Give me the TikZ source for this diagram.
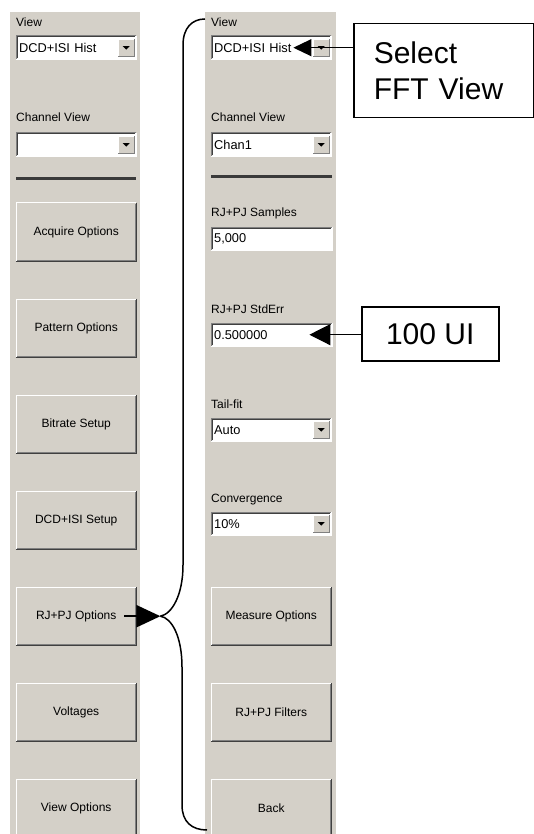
\documentclass[tikz,border=0pt]{standalone}
\usepackage{fontspec}
\setmainfont{Liberation Sans}
\usepackage{tikz}
\usetikzlibrary{arrows.meta,positioning}
\definecolor{guigray}{HTML}{D4D0C8}
\definecolor{edgedark}{HTML}{404040}
\definecolor{edgemid}{HTML}{808080}
\newcommand{\guifont}{\fontsize{12}{14}\selectfont}
\newcommand{\fieldfont}{\fontsize{12.8}{14}\selectfont}
\newcommand{\callfont}{\fontsize{30}{36}\selectfont}
\tikzstyle{panel} = [fill=guigray]
\tikzstyle{sepbar} = [fill=edgedark!90!black]
\tikzstyle{lbl} = [anchor=base west, inner sep=0pt, font=\guifont]
\tikzstyle{btn} = [fill=guigray, anchor=north west, minimum width=120pt,
    minimum height=58pt, inner sep=0pt, font=\guifont]
\tikzstyle{field} = [fill=white, anchor=north west, minimum height=23pt,
    text width=115pt, inner xsep=3pt, inner ysep=0pt, align=left, font=\fieldfont]
\tikzstyle{drop} = [field, text width=114pt]
\tikzstyle{ddbtn} = [fill=guigray, anchor=east, minimum width=16pt,
    minimum height=17pt, inner sep=0pt]
\tikzstyle{callout} = [draw, line width=1.5pt, fill=white, font=\callfont]
\tikzstyle{pointer} = [line width=1.2pt]
\tikzstyle{brace} = [line width=1.5pt]

\begin{document}
\begin{tikzpicture}[x=1pt, y=-1pt]
  \useasboundingbox (0,0) rectangle (534,834);

  % left menu
  \fill[panel] (10,12) rectangle (140,834);
  \node[lbl] (viewL) at (16,27) {View};
  \node[drop] (viewselL) at (16,36) {DCD+ISI Hist};
  \node[lbl] (chanL) at (16,122) {Channel View};
  \node[drop] (chanselL) at (16,133) {};
  \fill[sepbar] (16,177) rectangle (136,180);
  \foreach \name/\txt [count=\i from 0] in {acq/Acquire Options,
      pat/Pattern Options, bit/Bitrate Setup, dcd/DCD+ISI Setup,
      rjpj/RJ+PJ Options, volt/Voltages, vopt/View Options}
    \node[btn] (\name) at (16,203+96*\i) {\txt};

  % right menu (RJ+PJ options)
  \fill[panel] (205,12) rectangle (336,834);
  \node[lbl] (viewR) at (211,27) {View};
  \node[drop] (viewselR) at (211,36) {DCD+ISI Hist};
  \node[lbl] (chanR) at (211,122) {Channel View};
  \node[drop] (chanselR) at (211,133) {Chan1};
  \fill[sepbar] (211,175) rectangle (332,178);
  \node[lbl] (smpl) at (211,217) {RJ+PJ Samples};
  \node[field] (smplbox) at (211,227) {5,000};
  \node[lbl] (stde) at (211,313) {RJ+PJ StdErr};
  \node[field] (stdebox) at (211,323) {0.500000};
  \node[lbl] (tail) at (211,408) {Tail-fit};
  \node[drop] (tailsel) at (211,418) {Auto};
  \node[lbl] (conv) at (211,502) {Convergence};
  \node[drop] (convsel) at (211,512) {10\%};
  \foreach \name/\txt [count=\i from 0] in {meas/Measure Options,
      filt/RJ+PJ Filters, back/Back}
    \node[btn] (\name) at (211,587+96*\i) {\txt};

  % raised buttons
  \foreach \b in {acq,pat,bit,dcd,rjpj,volt,vopt,meas,filt,back} {
    \draw[white, line width=1pt] (\b.south west) |- (\b.north east);
    \draw[edgedark, line width=1pt] (\b.south west) -| (\b.north east);
    \draw[edgemid, line width=1pt] ([shift={(1,-1)}]\b.south west)
      -| ([shift={(-1,1)}]\b.north east);
  }

  % sunken fields
  \foreach \f in {viewselL,chanselL,viewselR,chanselR,smplbox,stdebox,tailsel,convsel} {
    \draw[edgemid, line width=1pt] (\f.south west) |- (\f.north east);
    \draw[white, line width=1pt] (\f.south west) -| (\f.north east);
    \draw[edgedark, line width=1pt] ([shift={(1,-1)}]\f.south west)
      |- ([shift={(-1,1)}]\f.north east);
  }

  % drop-down buttons
  \foreach \f in {viewselL,chanselL,viewselR,chanselR,tailsel,convsel} {
    \node[ddbtn] (\f-b) at ([xshift=-2pt]\f.east) {};
    \draw[white, line width=0.8pt] (\f-b.south west) |- (\f-b.north east);
    \draw[edgemid, line width=0.8pt] (\f-b.south west) -| (\f-b.north east);
    \fill ([shift={(-3.5,-1.5)}]\f-b.center) -- ++(7,0) -- ++(-3.5,3.5) -- cycle;
  }

  % callouts
  \node[callout, anchor=north west, text width=140pt, inner xsep=20pt,
    minimum height=94pt, align=left] (fft) at (353,23) {Select\\FFT View};
  \node[callout, anchor=north west, minimum width=137pt,
    minimum height=54pt] (ui) at (361,306) {100 UI};
  \coordinate (fftTip) at ([xshift=-38pt]viewselR.east);
  \coordinate (uiTip) at ([xshift=-23pt]stdebox.east);
  \draw[pointer, -{Triangle[length=18pt,width=17pt]}] (fft.west |- fftTip) -- (fftTip);
  \draw[pointer, -{Triangle[length=21pt,width=21pt]}] (ui.west |- uiTip) -- (uiTip);

  % brace from RJ+PJ Options to the new menu
  \coordinate (fork) at ([xshift=24pt]rjpj.east);
  \coordinate (braceTop) at (205,19);
  \coordinate (braceBot) at (207,830);
  \draw[brace] (fork) .. controls (172,614) and (183,595) .. (183,565)
    -- (183,45) .. controls (183,28) and (192,19) .. (braceTop);
  \draw[brace] (fork) .. controls (172,618) and (182,637) .. (182,667)
    -- (182,805) .. controls (182,822) and (192,830) .. (braceBot);
  \draw[line width=2pt, -{Triangle[length=24pt,width=22pt]}]
    ([xshift=-12pt]rjpj.east) -- (fork);
\end{tikzpicture}
\end{document}
